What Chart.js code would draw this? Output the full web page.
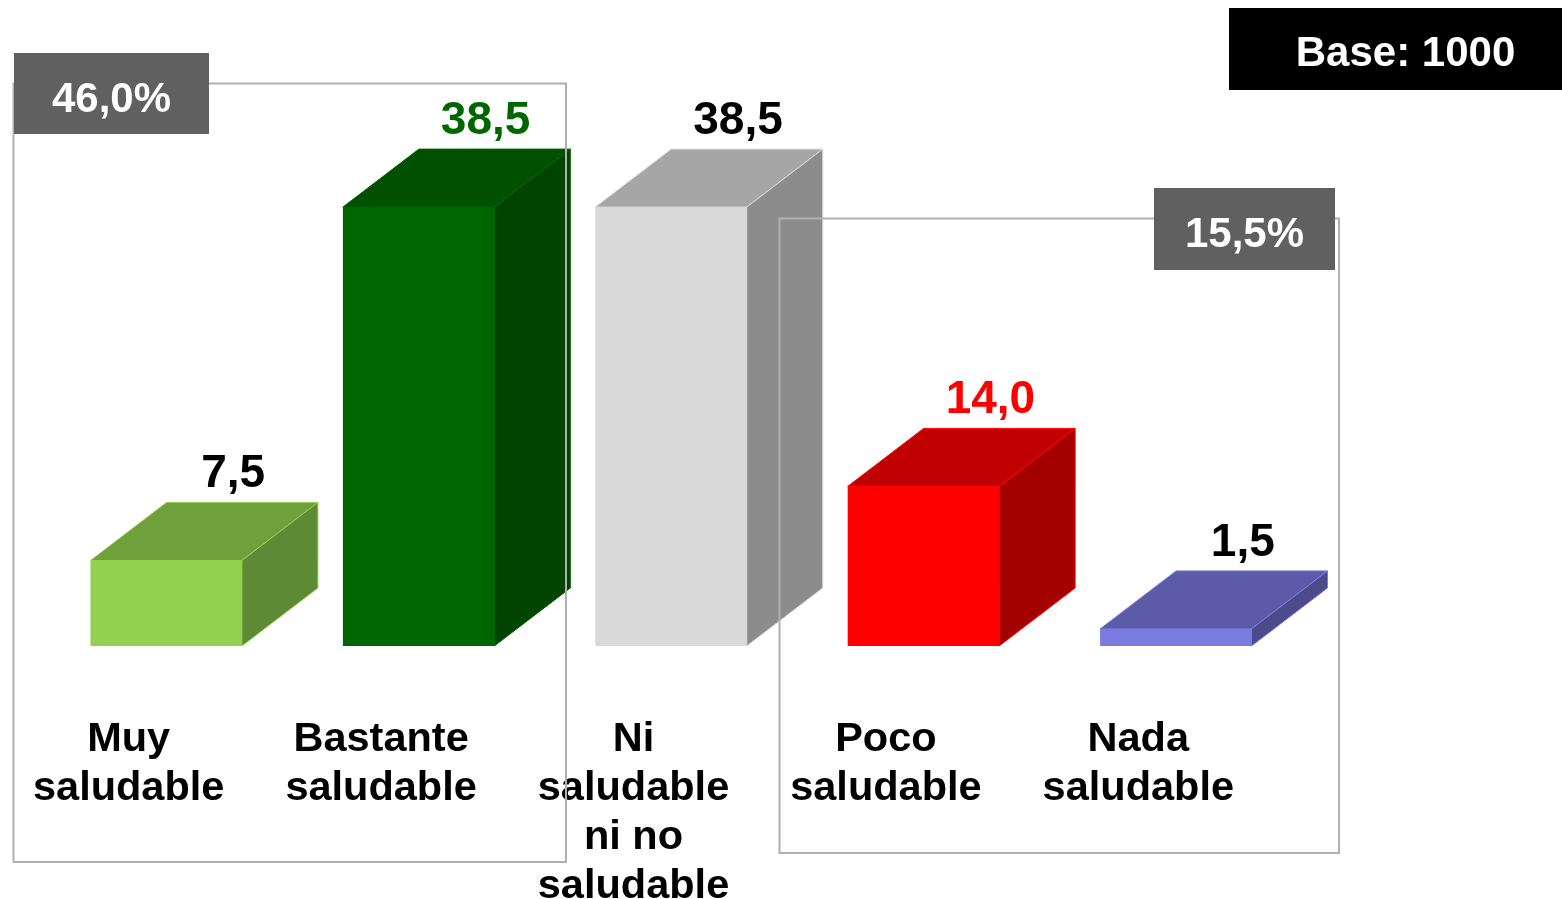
<!DOCTYPE html>
<html>
<head>
<meta charset="utf-8">
<script src="https://cdn.jsdelivr.net/npm/chart.js@4.4.0/dist/chart.umd.min.js"></script>
<style>
  html, body { margin: 0; padding: 0; background: #fff; }
</style>
</head>
<body>
<canvas id="myChart" width="1562" height="899"></canvas>
<script>
const categories = [
  ["Muy", "saludable"],
  ["Bastante", "saludable"],
  ["Ni", "saludable", "ni no", "saludable"],
  ["Poco", "saludable"],
  ["Nada", "saludable"]
];
const values = [7.5, 38.5, 38.5, 14.0, 1.5];
const valueLabels = ["7,5", "38,5", "38,5", "14,0", "1,5"];
const valueColors = ["#000000", "#006600", "#000000", "#ff0000", "#000000"];
const frontColors = ["#92d050", "#006600", "#d9d9d9", "#ff0000", "#7b7be0"];
const topColors = ["#70a03c", "#005000", "#a6a6a6", "#c00000", "#5b5ba8"];
const sideColors = ["#5e8a35", "#004400", "#8c8c8c", "#a50000", "#4b4b8c"];
const groupLabels = ["46,0%", "15,5%"];
const baseLabel = "Base: 1000";

const FONT = '"Liberation Sans", Arial, sans-serif';
const depthX = 76;
const depthY = 58;

// draws the top and side of each bar, plus the value on top
const bars3d = {
  id: "bars3d",
  afterDatasetsDraw(chart) {
    const ctx = chart.ctx;
    const meta = chart.getDatasetMeta(0);
    meta.data.forEach((bar, i) => {
      const half = bar.width / 2;
      const l = bar.x - half, r = bar.x + half, t = bar.y, b = bar.base;
      ctx.save();
      ctx.lineWidth = 1;
      ctx.strokeStyle = frontColors[i];

      // top
      ctx.beginPath();
      ctx.moveTo(l, t);
      ctx.lineTo(l + depthX, t - depthY);
      ctx.lineTo(r + depthX, t - depthY);
      ctx.lineTo(r, t);
      ctx.closePath();
      ctx.fillStyle = topColors[i];
      ctx.fill();
      ctx.stroke();

      // side
      ctx.beginPath();
      ctx.moveTo(r, t);
      ctx.lineTo(r + depthX, t - depthY);
      ctx.lineTo(r + depthX, b - depthY);
      ctx.lineTo(r, b);
      ctx.closePath();
      ctx.fillStyle = sideColors[i];
      ctx.fill();
      ctx.stroke();

      ctx.font = "bold 46px " + FONT;
      ctx.fillStyle = valueColors[i];
      ctx.textAlign = "center";
      ctx.textBaseline = "middle";
      ctx.fillText(valueLabels[i], bar.x + depthX - 9, t - depthY - 28);
      ctx.restore();
    });
  },
  afterDraw(chart) {
    const ctx = chart.ctx;
    ctx.save();
    // group outlines
    ctx.strokeStyle = "#b0b0b0";
    ctx.lineWidth = 2;
    ctx.strokeRect(13.5, 83.5, 552.5, 778.5);
    ctx.strokeRect(779.5, 218.5, 559.5, 634.5);

    // group labels
    ctx.fillStyle = "#606060";
    ctx.fillRect(14, 53, 195, 81);
    ctx.fillRect(1154, 188, 181, 82);
    ctx.fillStyle = "#000000";
    ctx.fillRect(1229, 8, 333, 82);

    ctx.font = "bold 42px " + FONT;
    ctx.fillStyle = "#ffffff";
    ctx.textAlign = "center";
    ctx.textBaseline = "middle";
    ctx.fillText(groupLabels[0], 111.5, 100);
    ctx.fillText(groupLabels[1], 1244.5, 235);
    ctx.fillText(baseLabel, 1405.5, 54);
    ctx.restore();
  }
};

const ctx = document.getElementById("myChart");
new Chart(ctx, {
  type: "bar",
  data: {
    labels: categories,
    datasets: [
      {
        data: values,
        backgroundColor: frontColors,
        borderWidth: 0,
        barPercentage: 0.6,
        categoryPercentage: 1
      }
    ]
  },
  options: {
    responsive: false,
    animation: false,
    layout: { padding: { top: 76, left: 40, right: 260, bottom: 0 } },
    plugins: {
      legend: { display: false },
      tooltip: { enabled: false }
    },
    scales: {
      x: {
        grid: { display: false, drawTicks: false },
        border: { display: false },
        ticks: {
          color: "#000000",
          font: { family: FONT, size: 41.5, weight: "bold", lineHeight: 1.18 },
          padding: 69,
          labelOffset: -37.5,
          autoSkip: false,
          maxRotation: 0
        },
        afterFit(scale) {
          scale.height = 253;
          scale.paddingLeft = 0;
          scale.paddingRight = 0;
        }
      },
      y: {
        display: false,
        min: 0,
        max: 50
      }
    }
  },
  plugins: [bars3d]
});
</script>
</body>
</html>
